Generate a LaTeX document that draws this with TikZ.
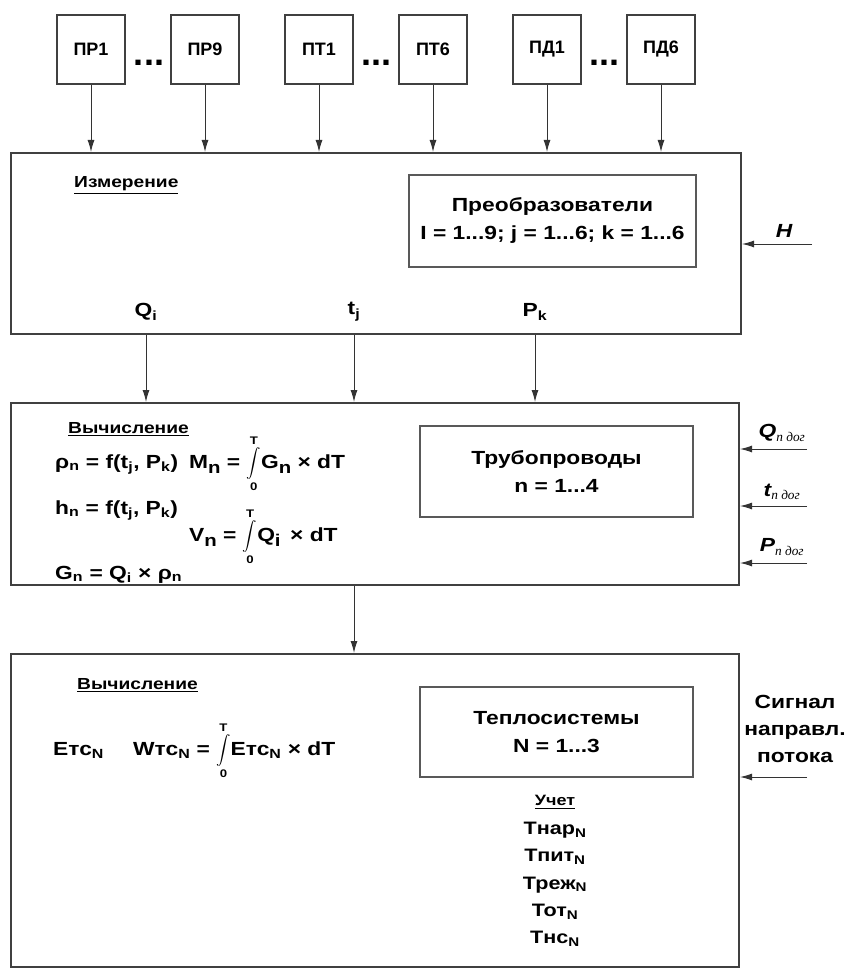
\documentclass[tikz,border=0pt]{standalone}
\usepackage{fontspec}
\usepackage{exscale}
\usepackage{graphicx}
\setmainfont{Liberation Sans}
\newfontfamily\wb{Liberation Sans}[FakeStretch=1.2]
\newfontfamily\subserif{Liberation Serif}
\usetikzlibrary{arrows.meta}
\newcommand\intTo{\ensuremath{\mathop{\vcenter{\hbox{\fontsize{14}{14}\selectfont$\displaystyle\int$}}}\limits_{\mbox{\fontsize{11}{11}\selectfont 0}}^{\mbox{\fontsize{11}{11}\selectfont T}}}}
\newcommand\sbs[1]{\textsubscript{#1}}
\newcommand\bsub[1]{\raisebox{-0.3em}{\fontsize{17}{17}\selectfont #1}}
\tikzset{
  bigbox/.style={draw=black!75, line width=2pt, minimum width=#1, inner sep=0pt},
  topbox/.style={draw=black!75, line width=1.8pt, minimum width=68pt, minimum height=69pt, inner sep=0pt, font=\fontsize{18}{20}\selectfont\bfseries},
  innerbox/.style={draw=black!65, line width=1.5pt, inner sep=0pt, align=center, font=\wb\bfseries\fontsize{19}{28}\selectfont},
  arr/.style={-{Latex[length=12pt,width=7pt]}, line width=1pt, draw=black!80},
  lbl/.style={inner sep=0pt, font=\wb\bfseries\fontsize{19}{28}\selectfont},
  head/.style={inner sep=0pt, anchor=base west, font=\wb\bfseries\fontsize{16}{20}\selectfont},
  frm/.style={inner sep=0pt, anchor=base west, font=\wb\bfseries\fontsize{19}{24}\selectfont},
  dots/.style={inner sep=0pt, anchor=base, font=\fontsize{36}{36}\selectfont\bfseries},
}
\begin{document}
\begin{tikzpicture}[x=1pt,y=-1pt]
\useasboundingbox (0,0) rectangle (850,968);
% top boxes
\node[topbox] (p1) at (91,49.5) {ПР1};
\node[topbox] (p2) at (205,49.5) {ПР9};
\node[topbox] (p3) at (319,49.5) {ПТ1};
\node[topbox] (p4) at (433,49.5) {ПТ6};
\node[topbox] (p5) at (547,49.5) {ПД1};
\node[topbox] (p6) at (661,49.5) {ПД6};
\node[dots] (d1) at (149,66) {...};
\node[dots] (d2) at (376,66) {...};
\node[dots] (d3) at (604,66) {...};
% block 1
\node[bigbox=730pt, minimum height=181pt] (b1) at (376,243.5) {};
\node[head] (h1) at (74,188) {\underline{Измерение}};
\node[innerbox, minimum width=287pt, minimum height=92pt] (ib1) at (552.5,221) {Преобразователи\\I = 1...9; j = 1...6; k = 1...6};
\foreach \i in {1,...,6}{\draw[arr] (p\i.south) -- (p\i.south |- b1.north);}
\coordinate (hin) at (812,244);
\draw[arr] (hin) -- (hin -| b1.east);
\node[lbl, font=\wb\bfseries\itshape\fontsize{19}{24}\selectfont] (H) at (784,231) {H};
\node[lbl] (Qi) at (146,312) {Q\sbs{i}};
\node[lbl] (tj) at (354,312) {t\sbs{j}};
\node[lbl] (Pk) at (535,312) {P\sbs{k}};
% block 2
\node[bigbox=728pt, minimum height=182pt] (b2) at (375,494) {};
\draw[arr] (b1.south -| Qi) -- (b2.north -| Qi);
\draw[arr] (b1.south -| tj) -- (b2.north -| tj);
\draw[arr] (b1.south -| Pk) -- (b2.north -| Pk);
\node[head] (h2) at (68,433) {\underline{Вычисление}};
\node[frm] (f1) at (55,468) {ρ\sbs{n} = f(t\sbs{j}, P\sbs{k})};
\node[frm] (f2) at (189,468) {M\bsub{n} = \intTo G\bsub{n} × dT};
\node[frm] (f3) at (55,514) {h\sbs{n} = f(t\sbs{j}, P\sbs{k})};
\node[frm] (f4) at (189,541) {V\bsub{n} = \intTo Q\bsub{i}\, × dT};
\node[frm] (f5) at (55,579) {G\sbs{n} = Q\sbs{i} × ρ\sbs{n}};
\node[innerbox, minimum width=273pt, minimum height=91pt] (ib2) at (556.5,471.5) {Трубопроводы\\n = 1...4};
\coordinate (qin) at (807,449);
\coordinate (tin) at (807,506);
\coordinate (pin) at (807,563);
\draw[arr] (qin) -- (qin -| b2.east);
\draw[arr] (tin) -- (tin -| b2.east);
\draw[arr] (pin) -- (pin -| b2.east);
\node[lbl, font=\wb\bfseries\itshape\fontsize{19}{24}\selectfont] (Qd) at (782,433) {Q\textsubscript{\subserif\itshape\mdseries n дог}};
\node[lbl, font=\wb\bfseries\itshape\fontsize{19}{24}\selectfont] (td) at (782,492) {t\textsubscript{\subserif\itshape\mdseries n дог}};
\node[lbl, font=\wb\bfseries\itshape\fontsize{19}{24}\selectfont] (Pd) at (782,547) {P\textsubscript{\subserif\itshape\mdseries n дог}};
% block 3
\node[bigbox=728pt, minimum height=313pt] (b3) at (375,810.5) {};
\draw[arr] (b2.south -| tj) -- (b3.north -| tj);
\node[head] (h3) at (77,689) {\underline{Вычисление}};
\node[frm] (e1) at (53,755) {Етс\sbs{N}};
\node[frm] (e2) at (133,755) {Wтс\sbs{N} = \intTo Етс\sbs{N} × dT};
\node[innerbox, minimum width=273pt, minimum height=90pt] (ib3) at (556.5,732) {Теплосистемы\\N = 1...3};
\node[lbl, align=center, font=\wb\bfseries\fontsize{19}{27}\selectfont] (sig) at (795,729) {Сигнал\\направл.\\потока};
\coordinate (sin) at (807,777);
\draw[arr] (sin) -- (sin -| b3.east);
\node[lbl, font=\wb\bfseries\fontsize{15}{20}\selectfont] (uch) at (555,802) {\underline{Учет}};
\node[lbl, align=center, font=\wb\bfseries\fontsize{18}{27.25}\selectfont, anchor=north] (lst) at (555,822) {Тнар\sbs{N}\\Тпит\sbs{N}\\Треж\sbs{N}\\Тот\sbs{N}\\Тнс\sbs{N}};
\end{tikzpicture}
\end{document}
